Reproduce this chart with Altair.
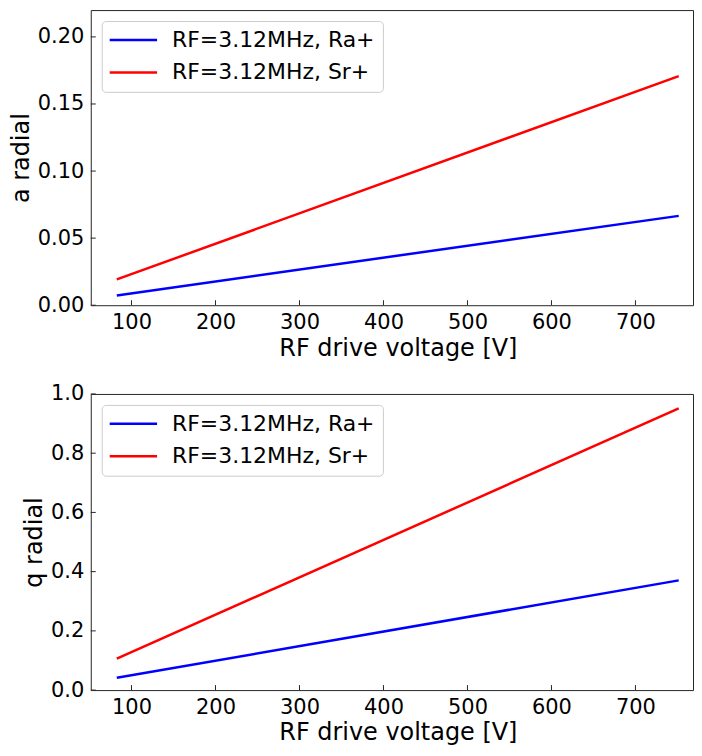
import altair as alt
import pandas as pd

# ---- data ----
voltage = [82.5, 751.5]
series = ["RF=3.12MHz, Ra+", "RF=3.12MHz, Sr+"]
colors = ["#0000ff", "#ff0000"]

a_ra = [0.0073, 0.0666]
a_sr = [0.0192, 0.1708]
q_ra = [0.0415, 0.3705]
q_sr = [0.106, 0.951]

x_ticks = [100, 200, 300, 400, 500, 600, 700]
a_ticks = [0.0, 0.05, 0.10, 0.15, 0.20]
q_ticks = [0.0, 0.2, 0.4, 0.6, 0.8, 1.0]

x_domain = [51.5, 768.5]
a_domain = [0.0, 0.22]
q_domain = [0.0, 1.0]

FONT = "DejaVu Sans"
SPINE = "#262626"


def long_df(ra, sr):
    rows = []
    for v, y in zip(voltage, ra):
        rows.append({"V": v, "val": y, "series": series[0]})
    for v, y in zip(voltage, sr):
        rows.append({"V": v, "val": y, "series": series[1]})
    return pd.DataFrame(rows)


def panel(df, yticks, ydom, yfmt, ytitle, W, H):
    xenc = alt.X("V:Q", scale=alt.Scale(domain=x_domain, nice=False, zero=False),
                 axis=alt.Axis(values=x_ticks, format="d",
                               title="RF drive voltage [V]", titleX=W / 2 + 6))
    yenc = alt.Y("val:Q", scale=alt.Scale(domain=ydom, nice=False, zero=False),
                 axis=alt.Axis(values=yticks, format=yfmt, title=ytitle))
    lines = alt.Chart(df).mark_line(strokeWidth=2.5, clip=True).encode(
        x=xenc, y=yenc,
        color=alt.Color("series:N",
                        scale=alt.Scale(domain=series, range=colors),
                        legend=alt.Legend(title=None)),
    )
    xt = alt.Chart(pd.DataFrame({"V": x_ticks})).mark_rule(
        color=SPINE, strokeWidth=1).encode(
        x=xenc, y=alt.value(H), y2=alt.value(H - 5),
    )
    yt = alt.Chart(pd.DataFrame({"val": yticks})).mark_rule(
        color=SPINE, strokeWidth=1).encode(
        y=yenc, x=alt.value(0), x2=alt.value(5),
    )
    return alt.layer(lines, xt, yt).properties(width=W, height=H)


top = panel(long_df(a_ra, a_sr), a_ticks, a_domain, ".2f", "a radial", 604, 296)
bottom = panel(long_df(q_ra, q_sr), q_ticks, q_domain, ".1f", "q radial", 604, 297)

chart = alt.vconcat(top, bottom, spacing=21).resolve_scale(
    x="independent", y="independent", color="independent"
).properties(
    padding={"left": 0, "top": 0, "right": 0, "bottom": 0}
).configure_view(
    stroke=SPINE, strokeWidth=1
).configure_axis(
    domain=False, ticks=False, tickSize=0, grid=False,
    labelFont=FONT, labelFontSize=21, labelColor="black",
    titleFont=FONT, titleFontSize=24, titleFontWeight="normal", titleColor="black",
).configure_axisX(
    labelPadding=6, titlePadding=4
).configure_axisY(
    labelPadding=7, titlePadding=4
).configure_legend(
    orient="top-left", offset=11, padding=8,
    fillColor="white", strokeColor="#cccccc", cornerRadius=4,
    labelFont=FONT, labelFontSize=22, labelColor="black", labelLimit=400,
    symbolType="M-1,0H4", symbolSize=361, symbolStrokeWidth=2.5,
    symbolOffset=-1.5, labelOffset=42, rowPadding=10.5,
)

chart.save("out.html", embed_options={"renderer": "svg", "actions": False})
